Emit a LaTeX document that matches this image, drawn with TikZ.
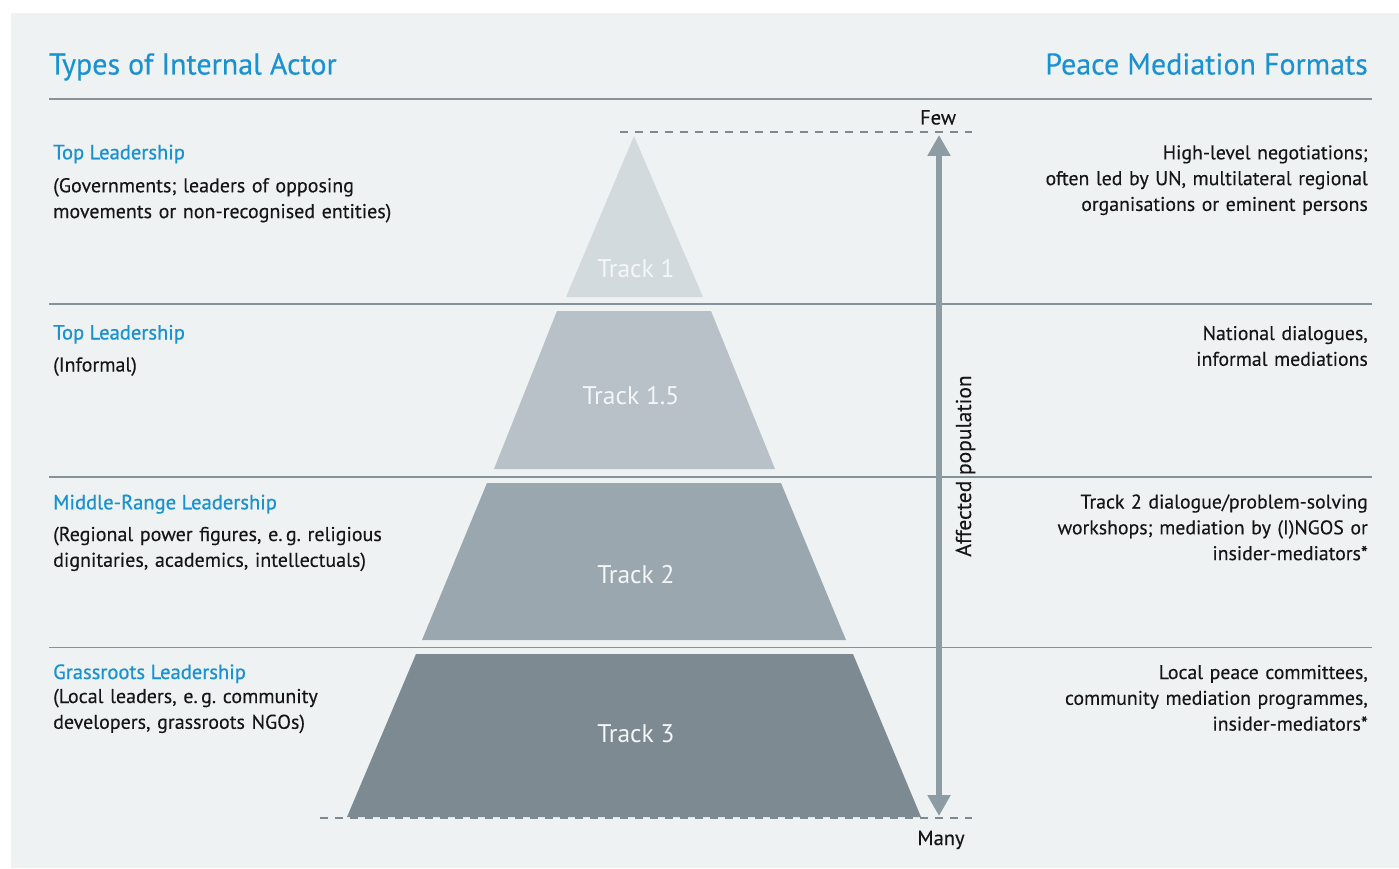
\documentclass[tikz,border=0pt]{standalone}
\usepackage{fontspec}
\setmainfont{PT Sans}[FakeBold=0.25]
\newfontfamily\subfont[FakeBold=0.7]{PT Sans}
\newfontfamily\plainfont{PT Sans}
\usetikzlibrary{arrows.meta}
\definecolor{bgcol}{HTML}{EFF2F3}
\definecolor{bluecol}{HTML}{1A92D1}
\definecolor{txtcol}{HTML}{161616}
\definecolor{linecol}{HTML}{85929A}
\definecolor{hdrlinecol}{HTML}{8A9297}
\definecolor{arrowcol}{HTML}{8D9BA3}
\definecolor{dashcol}{HTML}{7D8A91}
\definecolor{tA}{HTML}{D3DADD}
\definecolor{tB}{HTML}{B8C1C7}
\definecolor{tC}{HTML}{9BA7AE}
\definecolor{tD}{HTML}{7E8A91}
\definecolor{tracktxt}{HTML}{F4F6F7}
\tikzset{
  title/.style={inner sep=0pt, text=bluecol, font=\fontsize{30}{32}\selectfont},
  subhead/.style={inner sep=0pt, anchor=base west, text=bluecol, font=\subfont\fontsize{20.6}{24}\selectfont},
  bodyl/.style={inner sep=0pt, anchor=base west, text=txtcol, text width=420pt, align=left, font=\fontsize{20}{25.8}\selectfont},
  bodyr/.style={inner sep=0pt, anchor=base east, text=txtcol, text width=420pt, align=right, font=\fontsize{19.8}{25.8}\selectfont},
  small/.style={inner sep=0pt, text=txtcol, font=\fontsize{20.5}{24}\selectfont},
  tracklbl/.style={inner sep=0pt, text=tracktxt, font=\plainfont\fontsize{25.5}{28}\selectfont},
  sepline/.style={draw=linecol, line width=1.5pt},
  hdrline/.style={draw=hdrlinecol, line width=2pt},
  dashline/.style={draw=dashcol, line width=1.6pt, dash pattern=on 7.5pt off 7.5pt},
  poparrow/.style={draw=arrowcol, line width=5.5pt, {Triangle[length=21pt,width=22pt]}-{Triangle[length=21pt,width=22pt]}}
}
\begin{document}
\frenchspacing
\begin{tikzpicture}[x=1pt,y=-1pt]
\useasboundingbox (0,0) rectangle (1399,869);
\fill[white] (0,0) rectangle (1399,869);
\fill[bgcol] (11,13) rectangle (1399,868);

% headers
\node[title, anchor=base west] (hl) at (49,74.5) {Types of Internal Actor};
\node[title, anchor=base east] (hr) at (1368,74.5) {Peace Mediation Formats};
\draw[hdrline] (49,99) -- (1372,99);

% separators
\draw[sepline] (49,304) -- (1372,304);
\draw[sepline] (49,477) -- (1372,477);
\draw[sepline] (49,647.5) -- (1372,647.5);

% dashed limits
\coordinate (dtl) at (620,132);
\coordinate (dtr) at (972,132);
\coordinate (dbl) at (320,818);
\coordinate (dbr) at (972,818);
\draw[dashline] (dtl) -- (dtr);
\draw[dashline] (dbl) -- (dbr);

% pyramid
\fill[tA] (634,136) -- (703,297) -- (566,297) -- cycle;
\fill[tB] (557,311) -- (711,311) -- (775,469) -- (494,469) -- cycle;
\fill[tC] (487,483) -- (781,483) -- (846,640) -- (422,640) -- cycle;
\fill[tD] (416,654) -- (853,654) -- (921,817) -- (347,817) -- cycle;
\node[tracklbl] (t1) at (636,269) {Track 1};
\node[tracklbl] (t15) at (631,396) {Track 1.5};
\node[tracklbl] (t2) at (636,575) {Track 2};
\node[tracklbl] (t3) at (636,734) {Track 3};

% arrow
\node[small, anchor=base] (few) at (938,124.5) {Few};
\node[small, anchor=base] (many) at (941,845) {Many};
\coordinate (atop) at (939,135);
\coordinate (abot) at (939,816);
\draw[poparrow] (abot) -- (atop);
\node[small, rotate=90, anchor=base, font=\fontsize{21.5}{24}\selectfont] (aff) at (971,466) {Affected population};

% left column
\node[subhead] (l1h) at (53,159.3) {Top Leadership};
\node[bodyl] (l1b) at (53,192.3) {(Governments; leaders of opposing\\movements or non-recognised entities)};
\node[subhead] (l2h) at (53,339.5) {Top Leadership};
\node[bodyl] (l2b) at (53,371.5) {(Informal)};
\node[subhead] (l3h) at (53,509.3) {Middle-Range Leadership};
\node[bodyl] (l3b) at (53,541) {(Regional power figures, e.\,g. religious\\dignitaries, academics, intellectuals)};
\node[subhead] (l4h) at (53,679) {Grassroots Leadership};
\node[bodyl] (l4b) at (53,703) {(Local leaders, e.\,g. community\\developers, grassroots NGOs)};

% right column
\node[bodyr] (r1) at (1368,159.3) {High-level negotiations;\\often led by UN, multilateral regional\\organisations or eminent persons};
\node[bodyr] (r2) at (1368,340) {National dialogues,\\informal mediations};
\node[bodyr] (r3) at (1368,508.5) {Track 2 dialogue/problem-solving\\workshops; mediation by (I)NGOS or\\insider-mediators*};
\node[bodyr] (r4) at (1368,679) {Local peace committees,\\community mediation programmes,\\insider-mediators*};
\end{tikzpicture}
\end{document}
